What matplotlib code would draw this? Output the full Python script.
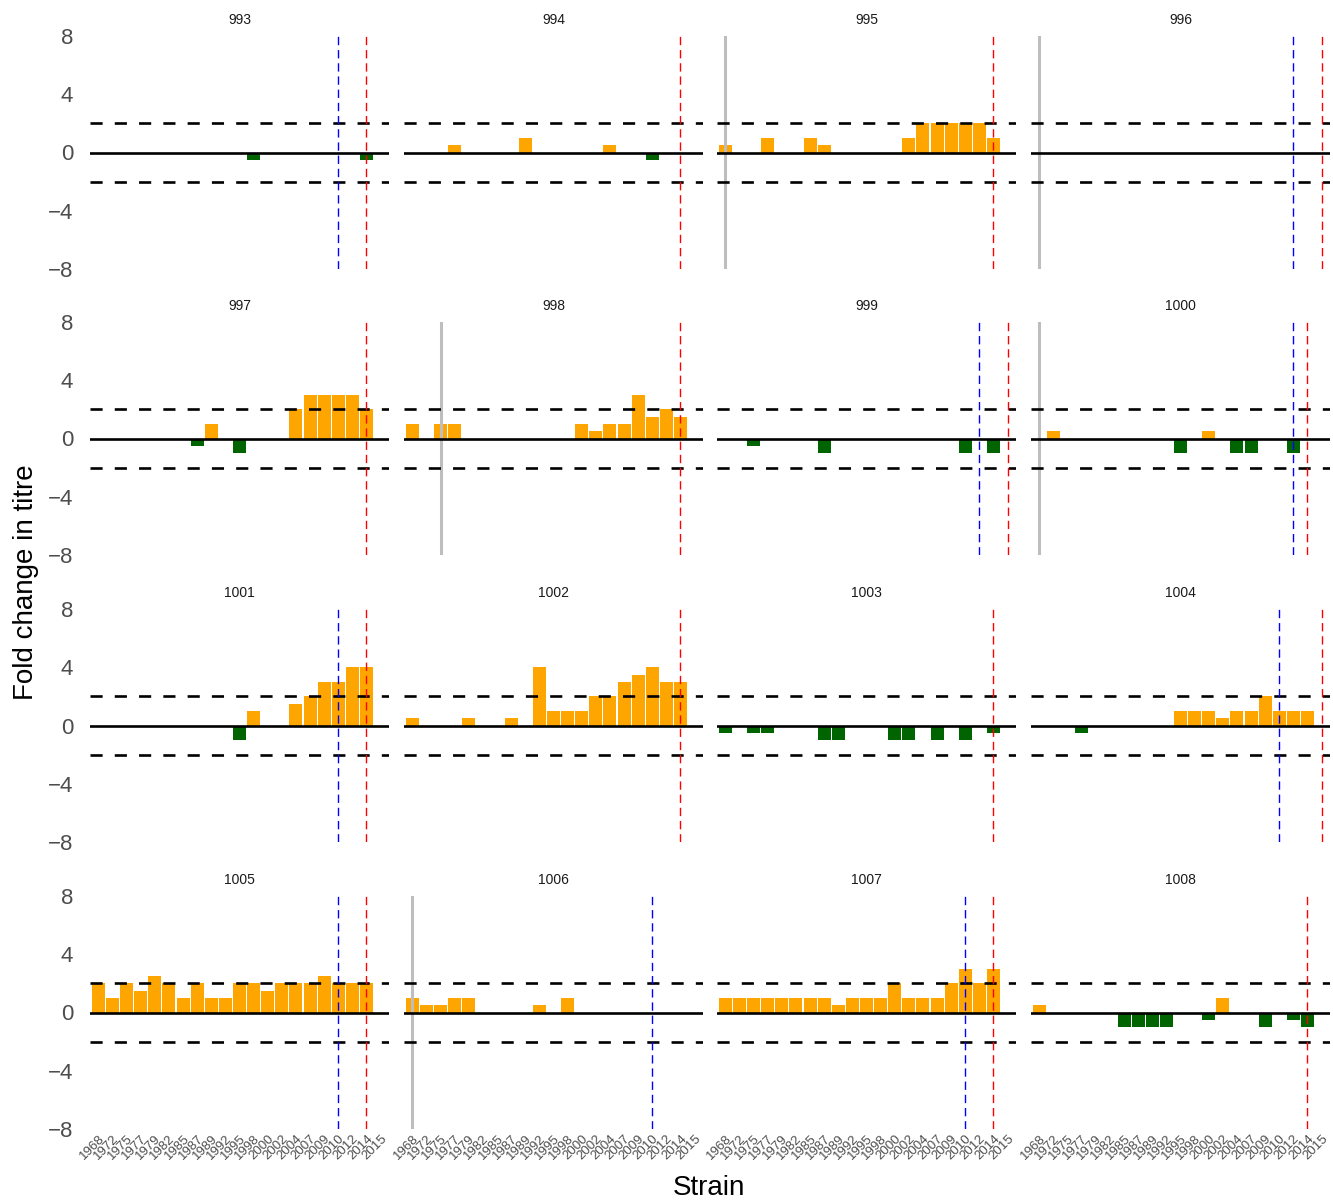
import matplotlib
matplotlib.use("Agg")
import matplotlib.pyplot as plt
import numpy as np

plt.rcParams['font.family'] = ['Liberation Sans', 'DejaVu Sans']

strains = ['1968', '1972', '1975', '1977', '1979', '1982', '1985', '1987', '1989', '1992', '1995',
           '1998', '2000', '2002', '2004', '2007', '2009', '2010', '2012', '2014', '2015']

panels = ['993', '994', '995', '996', '997', '998', '999', '1000',
          '1001', '1002', '1003', '1004', '1005', '1006', '1007', '1008']

# fold change in titre, one list per panel, in strain order
fold_change = [
    [0, 0, 0, 0, 0, 0, 0, 0, 0, 0, 0, -0.5, 0, 0, 0, 0, 0, 0, 0, -0.5, 0],
    [0, 0, 0, 0.5, 0, 0, 0, 0, 1, 0, 0, 0, 0, 0, 0.5, 0, 0, -0.5, 0, 0, 0],
    [0.5, 0, 0, 1, 0, 0, 1, 0.5, 0, 0, 0, 0, 0, 1, 2, 2, 2, 2, 2, 1, 0],
    [0, 0, 0, 0, 0, 0, 0, 0, 0, 0, 0, 0, 0, 0, 0, 0, 0, 0, 0, 0, 0],
    [0, 0, 0, 0, 0, 0, 0, -0.5, 1, 0, -1, 0, 0, 0, 2, 3, 3, 3, 3, 2, 0],
    [1, 0, 1, 1, 0, 0, 0, 0, 0, 0, 0, 0, 1, 0.5, 1, 1, 3, 1.5, 2, 1.5, 0],
    [0, 0, -0.5, 0, 0, 0, 0, -1, 0, 0, 0, 0, 0, 0, 0, 0, 0, -1, 0, -1, 0],
    [0, 0.5, 0, 0, 0, 0, 0, 0, 0, 0, -1, 0, 0.5, 0, -1, -1, 0, 0, -1, 0, 0],
    [0, 0, 0, 0, 0, 0, 0, 0, 0, 0, -1, 1, 0, 0, 1.5, 2, 3, 3, 4, 4, 0],
    [0.5, 0, 0, 0, 0.5, 0, 0, 0.5, 0, 4, 1, 1, 1, 2, 2, 3, 3.5, 4, 3, 3, 0],
    [-0.5, 0, -0.5, -0.5, 0, 0, 0, -1, -1, 0, 0, 0, -1, -1, 0, -1, 0, -1, 0, -0.5, 0],
    [0, 0, 0, -0.5, 0, 0, 0, 0, 0, 0, 1, 1, 1, 0.5, 1, 1, 2, 1, 1, 1, 0],
    [2, 1, 2, 1.5, 2.5, 2, 1, 2, 1, 1, 2, 2, 1.5, 2, 2, 2, 2.5, 2, 2, 2, 0],
    [1, 0.5, 0.5, 1, 1, 0, 0, 0, 0, 0.5, 0, 1, 0, 0, 0, 0, 0, 0, 0, 0, 0],
    [1, 1, 1, 1, 1, 1, 1, 1, 0.5, 1, 1, 1, 2, 1, 1, 1, 2, 3, 2, 3, 0],
    [0.5, 0, 0, 0, 0, 0, -1, -1, -1, -1, 0, 0, -0.5, 1, 0, 0, -1, 0, -0.5, -1, 0],
]

# marker strains per panel (None = no line)
blue_strain = ['2010', None, None, '2012', None, None, '2012', '2012',
               '2010', None, None, '2010', '2010', '2010', '2010', None]
red_strain = ['2014', '2014', '2014', '2015', '2014', '2014', '2015', '2014',
              '2014', '2014', '2014', '2015', '2014', None, '2014', '2014']
grey_strain = [None, None, '1968', '1968', None, '1975', None, '1968',
               None, None, None, None, None, '1968', None, None]

W, H = 1333, 1202
fig = plt.figure(figsize=(W / 100, H / 100), dpi=100)

col_left = [90, 404, 717, 1031]
row_top = [36, 322, 609, 896]
pw, ph = 299, 233

x = np.arange(len(strains))
for k, name in enumerate(panels):
    r, c = divmod(k, 4)
    ax = fig.add_axes([col_left[c] / W, 1 - (row_top[r] + ph) / H, pw / W, ph / H])
    vals = np.array(fold_change[k], dtype=float)
    cols = ['#FFA500' if v > 0 else '#006400' for v in vals]
    ax.bar(x, vals, width=0.92, color=cols, edgecolor='none', zorder=1)

    if grey_strain[k]:
        ax.axvline(strains.index(grey_strain[k]), color='#BEBEBE', lw=2.2, zorder=2)
    ax.axhline(0, color='black', lw=1.9, zorder=3)
    for yv in (2, -2):
        ax.axhline(yv, color='black', lw=1.9, ls=(0, (4.6, 4.6)), zorder=3)
    if blue_strain[k]:
        ax.axvline(strains.index(blue_strain[k]), color='blue', lw=1.0,
                   ls=(0, (6, 3.5)), zorder=4)
    if red_strain[k]:
        ax.axvline(strains.index(red_strain[k]), color='red', lw=1.0,
                   ls=(0, (6, 3.5)), zorder=4)

    ax.set_xlim(-0.6, len(strains) - 0.4)
    ax.set_ylim(-8, 8)
    for s in ax.spines.values():
        s.set_visible(False)
    ax.set_title(name, fontsize=10, color='#1A1A1A', pad=9)
    ax.tick_params(length=0)
    ax.set_yticks([-8, -4, 0, 4, 8])
    if c == 0:
        ax.set_yticklabels(['\u22128', '\u22124', '0', '4', '8'], fontsize=16, color='#4D4D4D')
        ax.tick_params(axis='y', pad=12)
    else:
        ax.set_yticklabels([])
    ax.set_xticks(x)
    if r == 3:
        ax.set_xticklabels(strains, rotation=45, ha='right', rotation_mode='anchor',
                           fontsize=9.5, color='#4D4D4D')
        ax.tick_params(axis='x', pad=3)
    else:
        ax.set_xticklabels([])

fig.text(26 / W, 1 - 582 / H, 'Fold change in titre', rotation=90, fontsize=20,
         ha='center', va='center')
fig.text(709 / W, 1 - 1188 / H, 'Strain', fontsize=20, ha='center', va='center')

fig.savefig('out.png', dpi=100)
